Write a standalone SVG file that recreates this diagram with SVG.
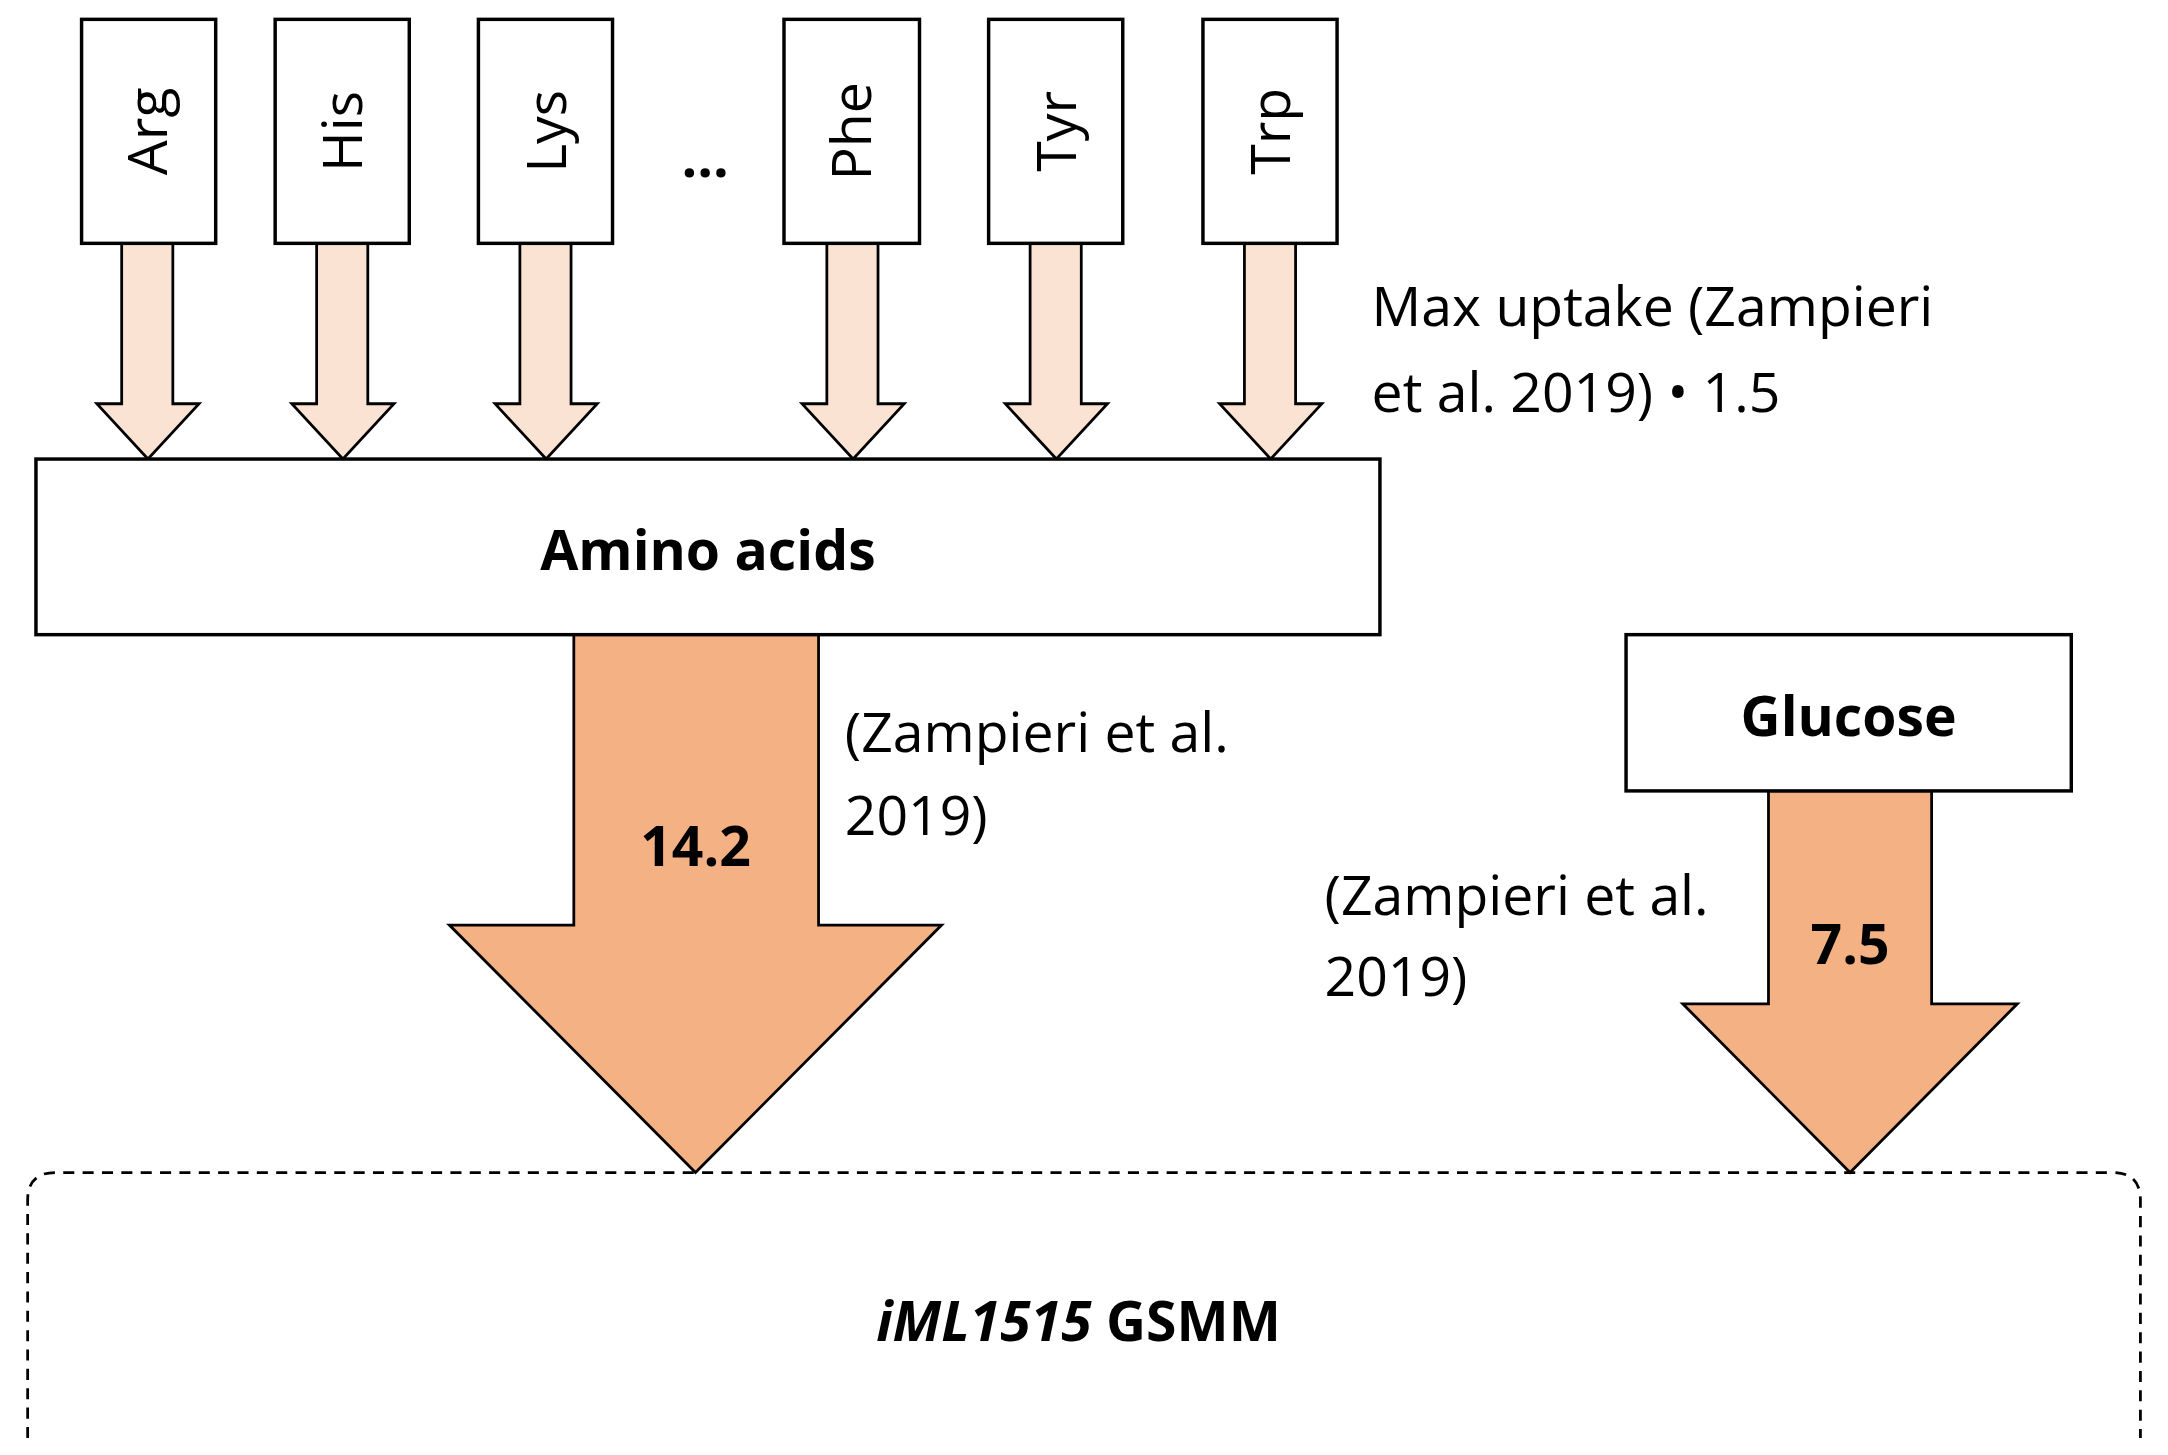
<svg xmlns="http://www.w3.org/2000/svg" width="2168" height="1455" viewBox="0 0 2168 1455">
<style>
.box{fill:#fff;stroke:#000;stroke-width:2.5}
.t{font-family:"Open Sans","Liberation Sans",sans-serif;font-size:40px;fill:#000}
.b{font-weight:bold}
.thin{fill:#fbe3d4;stroke:#000;stroke-width:2}
.big{fill:#f4b183;stroke:#000;stroke-width:2}
</style>
<rect width="2168" height="1455" fill="#fff"/>
<g transform="scale(1.3827)">
<g id="connectors">
<path class="thin" d="M88,176 H125 V292 H144 L107,332 L70,292 H88 Z"/>
<path class="thin" d="M229,176 H266 V292 H285 L248,332 L211,292 H229 Z"/>
<path class="thin" d="M376,176 H413 V292 H432 L395,332 L358,292 H376 Z"/>
<path class="thin" d="M598,176 H635 V292 H654 L617,332 L580,292 H598 Z"/>
<path class="thin" d="M745,176 H782 V292 H801 L764,332 L727,292 H745 Z"/>
<path class="thin" d="M900,176 H937 V292 H956 L919,332 L882,292 H900 Z"/>
<path class="big" d="M415,459 H592 V669 H681 L503,848 L325,669 H415 Z"/>
<path class="big" d="M1279,572 H1397 V726 H1459 L1338,848 L1217,726 H1279 Z"/>
</g>
<g id="arg"><rect class="box" x="59" y="14" width="97" height="162"/><text class="t" transform="translate(121,95) rotate(-90)" text-anchor="middle">Arg</text></g>
<g id="his"><rect class="box" x="199" y="14" width="97" height="162"/><text class="t" transform="translate(262,95) rotate(-90)" text-anchor="middle">His</text></g>
<g id="lys"><rect class="box" x="346" y="14" width="97" height="162"/><text class="t" transform="translate(409,95) rotate(-90)" text-anchor="middle">Lys</text></g>
<g id="dots"><text class="t b" x="510" y="128" text-anchor="middle">…</text></g>
<g id="phe"><rect class="box" x="567" y="14" width="98" height="162"/><text class="t" transform="translate(630,95) rotate(-90)" text-anchor="middle">Phe</text></g>
<g id="tyr"><rect class="box" x="715" y="14" width="97" height="162"/><text class="t" transform="translate(778,95) rotate(-90)" text-anchor="middle">Tyr</text></g>
<g id="trp"><rect class="box" x="870" y="14" width="97" height="162"/><text class="t" transform="translate(933,95) rotate(-90)" text-anchor="middle">Trp</text></g>
<g id="amino"><rect class="box" x="26" y="332" width="972" height="127"/><text class="t b" x="512" y="412" text-anchor="middle">Amino acids</text></g>
<g id="glucose"><rect class="box" x="1176" y="459" width="322" height="113"/><text class="t b" x="1337" y="532" text-anchor="middle">Glucose</text></g>
<g id="gsmm"><path d="M20,1040 V868 Q20,848 40,848 H1528 Q1548,848 1548,868 V1040" fill="none" stroke="#000" stroke-width="2" stroke-dasharray="8,6"/><text class="t b" x="780" y="970" text-anchor="middle"><tspan font-style="italic">iML1515</tspan> GSMM</text></g>
<g id="labels">
<text class="t" x="992" y="236">Max uptake (Zampieri</text>
<text class="t" x="992" y="298">et al. 2019) • 1.5</text>
<text class="t" x="611" y="544">(Zampieri et al.</text>
<text class="t" x="611" y="604">2019)</text>
<text class="t" x="958" y="662">(Zampieri et al.</text>
<text class="t" x="958" y="720">2019)</text>
<text class="t b" x="503" y="626" text-anchor="middle">14.2</text>
<text class="t b" x="1338" y="697" text-anchor="middle">7.5</text>
</g>
</g>
</svg>
